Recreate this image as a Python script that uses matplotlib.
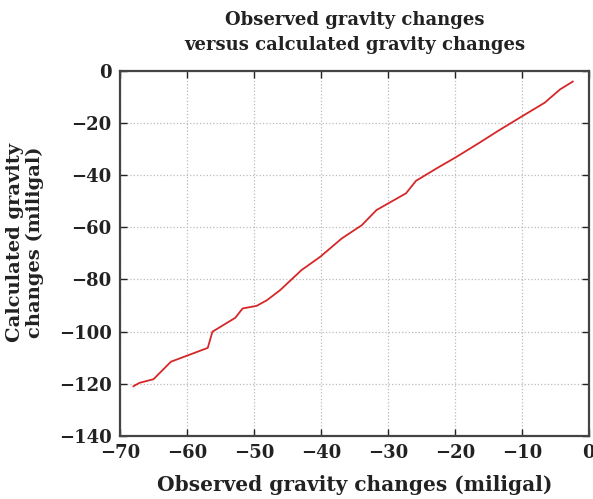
import matplotlib.pyplot as plt

# observed vs calculated gravity changes (miligal)
observed = [-68.0, -67.1, -65.0, -62.4, -56.9, -56.2, -52.8, -51.7, -49.6, -48.1,
            -46.1, -42.9, -40.1, -36.9, -33.9, -31.7, -27.3, -25.8, -22.7, -20.0,
            -16.5, -13.5, -10.1, -6.6, -4.3, -2.4]
calculated = [-120.9, -119.6, -118.2, -111.5, -106.2, -100.0, -94.7, -91.1, -90.1, -88.0,
              -84.1, -76.4, -71.3, -64.3, -59.2, -53.4, -47.0, -42.2, -37.4, -33.4,
              -27.9, -23.0, -17.7, -12.3, -7.2, -4.2]

xticks = [-70, -60, -50, -40, -30, -20, -10, 0]
yticks = [-140, -120, -100, -80, -60, -40, -20, 0]

plt.rcParams['font.family'] = 'DejaVu Serif'
plt.rcParams['font.weight'] = 'bold'

fig = plt.figure(figsize=(5.93, 4.99), dpi=100)
ax = fig.add_axes([0.2024, 0.126, 0.7906, 0.7325])

ax.plot(observed, calculated, color='#d62728', linewidth=1.3)

ax.set_xlim(-70, 0)
ax.set_ylim(-140, 0)
ax.set_xticks(xticks)
ax.set_yticks(yticks)
ax.set_xticklabels([str(t).replace('-', '\u2212') for t in xticks])
ax.set_yticklabels([str(t).replace('-', '\u2212') for t in yticks])
ax.tick_params(direction='in', top=True, right=True, length=5, width=1,
               labelsize=13, colors='#222222')
ax.tick_params(axis='x', pad=6)
ax.tick_params(axis='y', pad=6)
ax.grid(True, linestyle=':', color='#bbbbbb', linewidth=0.9)

for s in ax.spines.values():
    s.set_linewidth(1.6)
    s.set_color('#444444')

ax.set_xlabel('Observed gravity changes (miligal)', fontsize=14.5, fontweight='bold',
              color='#222222', labelpad=9)
ax.set_ylabel('Calculated gravity\nchanges (miligal)', fontsize=14, fontweight='bold',
              color='#222222', linespacing=1.15)
ax.yaxis.set_label_coords(-0.162, 0.53)
ax.set_title('Observed gravity changes\nversus calculated gravity changes', fontsize=13,
             fontweight='bold', color='#222222', pad=15, linespacing=1.45)

fig.savefig('out.png', dpi=100)
